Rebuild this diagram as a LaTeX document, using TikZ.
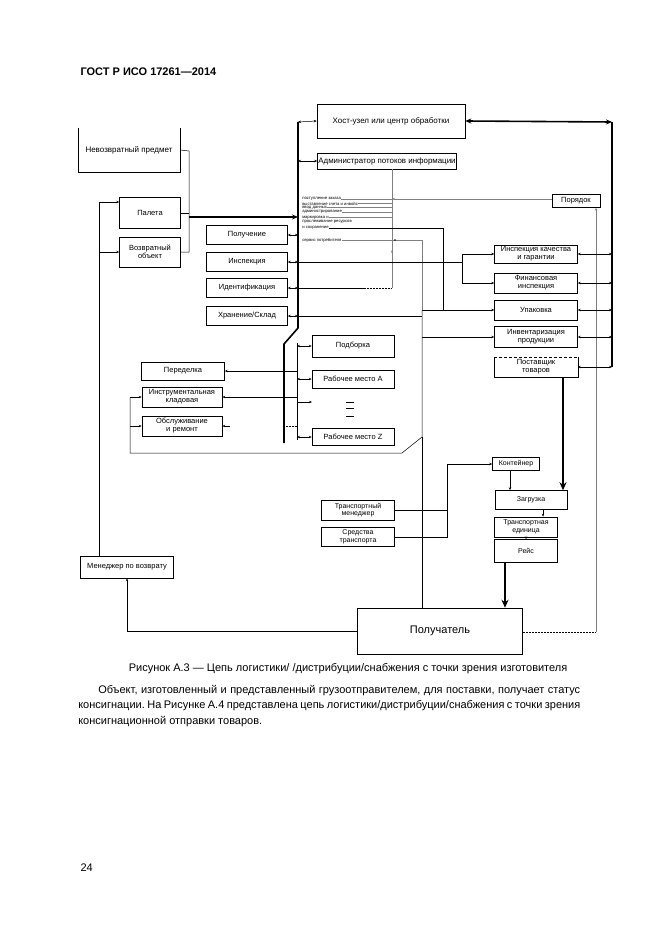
\documentclass[tikz,border=0pt]{standalone}
\usepackage{fontspec}
\setmainfont{Liberation Sans}
\usetikzlibrary{arrows.meta}
\frenchspacing

\begin{document}
\begin{tikzpicture}[x=1pt,y=-1pt,line width=0.5pt,
  box/.style={draw, rectangle, inner sep=1pt, align=center, font=\fontsize{7.5}{8}\selectfont},
  sbox/.style={box, font=\fontsize{7}{7.5}\selectfont},
  lst/.style={anchor=west, inner sep=0pt, font=\fontsize{4.2}{4.5}\selectfont},
  bus/.style={line width=1.6pt},
  fat/.style={line width=1.6pt, -{Stealth[length=8pt,width=7pt]}},
  info/.style={draw=gray},
  >={Stealth[length=3pt,width=2.4pt]}]
\useasboundingbox (0,0) rectangle (661,936);

\node[anchor=west, font=\bfseries\fontsize{11}{13}\selectfont] (hdr) at (77,72) {ГОСТ Р ИСО 17261—2014};

% left column
\node[box, draw=none, minimum width=102pt, minimum height=44pt, font=\fontsize{8}{9}\selectfont] (nevoz) at (129,150) {Невозвратный предмет};
\draw (nevoz.north west) -- (nevoz.south west) -- (nevoz.south east) -- (nevoz.north east);
\node[box, minimum width=61pt, minimum height=31pt] (palet) at (150,213) {Палета};
\node[box, minimum width=61pt, minimum height=30pt] (vozvr) at (150,252) {Возвратный\\объект};
\node[box, minimum width=81pt, minimum height=19pt] (polu) at (247,235) {Получение};
\node[box, minimum width=81pt, minimum height=19pt] (insp) at (247,262) {Инспекция};
\node[box, minimum width=81pt, minimum height=19pt] (ident) at (247,288) {Идентификация};
\node[box, minimum width=81pt, minimum height=19pt] (hran) at (247,316) {Хранение/Склад};
\node[box, minimum width=83pt, minimum height=18pt] (pered) at (183,371) {Переделка};
\node[box, minimum width=80pt, minimum height=20pt] (instr) at (182,397) {Инструментальная\\кладовая};
\node[box, minimum width=80pt, minimum height=20pt] (obsl) at (182,426) {Обслуживание\\и ремонт};
\node[box, minimum width=93pt, minimum height=22pt] (menvoz) at (127,567) {Менеджер по возврату};

% top
\node[box, minimum width=148pt, minimum height=34pt, font=\fontsize{8}{9}\selectfont] (host) at (391,121) {Хост-узел или центр обработки};
\node[box, minimum width=139pt, minimum height=16pt, inner sep=0.5pt, font=\fontsize{7.9}{9}\selectfont] (admin) at (387,161) {Администратор потоков информации};
\node[lst] (t1) at (302,199) {поступление заказа};
\node[lst] (t2) at (302,203.5) {выставление счета и инвойс};
\node[lst] (t3) at (302,207.5) {ввод данных};
\node[lst] (t4) at (302,212) {администрирование};
\node[lst] (t5) at (302,217.5) {маркировка и};
\node[lst] (t6) at (302,222) {прослеживание ресурсов};
\node[lst] (t7) at (302,228) {и сохранение};
\node[lst] (t8) at (302,240) {сервис потребителя};

% work places
\node[box, minimum width=82pt, minimum height=22pt] (podb) at (353,346) {Подборка};
\node[box, minimum width=82pt, minimum height=18pt] (rmA) at (353,379) {Рабочее место A};
\node[box, minimum width=82pt, minimum height=17pt] (rmZ) at (353,437) {Рабочее место Z};

% right column
\node[box, minimum width=48pt, minimum height=13pt] (poryad) at (576,201) {Порядок};
\node[box, minimum width=83pt, minimum height=18pt] (ikach) at (536,254) {Инспекция качества\\и гарантии};
\node[box, minimum width=83pt, minimum height=20pt] (finsp) at (536,283) {Финансовая\\инспекция};
\node[box, minimum width=83pt, minimum height=20pt] (upak) at (536,310) {Упаковка};
\node[box, minimum width=83pt, minimum height=21pt] (inv) at (536,337) {Инвентаризация\\продукции};
\node[box, draw=none, minimum width=83pt, minimum height=20pt] (post) at (536,367) {Поставщик\\товаров};
\draw (post.north west) -- (post.south west) -- (post.south east) -- (post.north east);
\draw[densely dashed] (post.north west) -- (post.north east);

% transport
\node[sbox, minimum width=47pt, minimum height=13pt] (kont) at (516,464) {Контейнер};
\node[sbox, minimum width=72pt, minimum height=19pt] (zagr) at (531,500) {Загрузка};
\node[sbox, minimum width=63pt, minimum height=20pt] (trunit) at (526,527) {Транспортная\\единица};
\node[sbox, minimum width=63pt, minimum height=23pt] (reis) at (526,551) {Рейс};
\node[sbox, minimum width=73pt, minimum height=20pt] (trmen) at (358,510) {Транспортный\\менеджер};
\node[sbox, minimum width=73pt, minimum height=19pt] (sredst) at (358,537) {Средства\\транспорта};
\node[box, minimum width=165pt, minimum height=46pt, font=\fontsize{11}{12}\selectfont] (poluch) at (440,631) {Получатель};

% bus
\coordinate (busT) at (298,122);
\coordinate (busK) at (298,328);
\coordinate (busL) at (284,344);
\coordinate (busB) at (284,443);
\coordinate (subT) at (297,343);
\coordinate (subB) at (297,440);
\draw[bus] (busT) -- (busK) -- (busL) -- (busB);
\draw (subT) -- (subB);
\draw[<->] (busT) -- (host.west);
\draw[<->] (busT |- admin.west) -- (admin.west);
\draw[<->] (busT |- polu.east) -- (polu.east);
\draw[<->] (busT |- insp.east) -- (insp.east);
\draw[<->] (busT |- ident.east) -- (ident.east);
\draw[<->] (busT |- hran.east) -- (hran.east);

% inputs from the left
\coordinate (jA) at (189,151);
\coordinate (jB) at (189,252);
\coordinate (jC) at (189,217);
\draw (nevoz.east) -- (jA) -- (jB) -- (vozvr.east);
\draw (palet.east) -- (palet.east -| jA);
\draw[line width=1.2pt, -{Stealth[length=6pt,width=5pt]}] (jC) -- (jC -| busT);

% return loop
\coordinate (rL) at (99,202);
\draw[->] (menvoz.north -| rL) -- (rL) -- (rL -| palet.west);
\draw[->] (rL |- vozvr.west) -- (vozvr.west);
\draw[->] (poluch.west) -| (menvoz.south);

% work places
\draw[<->] (subT |- podb.west) -- (podb.west);
\draw[<->] (subT |- rmA.west) -- (rmA.west);
\draw[<->] (subT |- rmZ.west) -- (rmZ.west);
\coordinate (rmdots) at (312,402);
\draw[->] (subT |- rmdots) -- (rmdots);
\draw (346,402) -- (354,402);
\draw (346,408) -- (354,408);
\draw (346,416) -- (354,416);
\draw[<-] (pered.east) -- (pered.east -| subT);
\draw[<-] (instr.east) -- (instr.east -| subT);
\draw[<-] (obsl.east) -- ++(8,0);
\draw[densely dotted] (busB |- obsl.east) -- (subT |- obsl.east);

% storage loop
\coordinate (eTop) at (422,310);
\coordinate (eCor) at (422,437);
\coordinate (eBot) at (402,453);
\coordinate (eLft) at (130,453);
\draw (busT |- hran.east) -- (hran.east -| eTop);
\draw[->] (eTop) -- (upak.west);
\draw[->] (eTop |- inv.west) -- (inv.west);
\draw (eTop) -- (eCor) -- (eBot) -- (eLft) -- (eLft |- instr.west);
\draw[->] (eLft |- instr.west) -- (instr.west);
\draw[->] (eLft |- obsl.west) -- (obsl.west);
\draw (eCor) -- (eCor |- poluch.north);

% information flows
\coordinate (gv) at (392,288);
\draw[info, ->] (gv) -- (gv |- 0,250);
\draw[info] (gv |- 0,252) -- (gv |- admin.south);
\draw[info] (t1.east) -- (t1.east -| gv);
\draw[info, <-] (t1.east -| gv) -- (t1.east -| poryad.west);
\draw[info] (t2.east) -- (t2.east -| gv);
\draw[info] (t3.east) -- (t3.east -| gv);
\draw[info] (t4.east) -- (t4.east -| gv);
\draw[info] (t5.east) -- (t5.east -| gv);
\draw (t7.east) -- (443,228) -- (443,310);
\draw[info] (t8.east) -- (422,240) -- (eTop);
\fill (395,240) circle (0.9pt);
\draw (busT |- ident.east) -- (365,288);
\draw[densely dotted] (365,288) -- (gv);

% inspection branch
\coordinate (ij) at (462,262);
\draw (busT |- insp.east) -- (ij);
\draw[->] (ij) |- (ikach.west);
\draw[->] (ij) |- (finsp.west);

% order line
\coordinate (pv) at (596,632);
\draw[info, ->] (pv) -- (pv |- poryad.south);
\draw[densely dotted] (poluch.east |- pv) -- (pv);

% right bus
\coordinate (rbT) at (612,122);
\coordinate (rbB) at (612,367);
\draw[bus, {Stealth[length=6pt,width=5pt]}-{Stealth[length=6pt,width=5pt]}] (host.east) -- (rbT);
\draw[bus] (rbT) -- (rbB);
\draw[<->] (rbB) -- (post.east);
\draw[<->] (ikach.east -| rbT) -- (ikach.east);
\draw[<->] (finsp.east -| rbT) -- (finsp.east);
\draw[<->] (upak.east -| rbT) -- (upak.east);
\draw[<->] (inv.east -| rbT) -- (inv.east);

% transport chain
\coordinate (pz) at (563,377);
\draw[fat] (pz) -- (pz |- zagr.north);
\coordinate (tj) at (447,464);
\draw (trmen.east) -| (tj);
\draw[->] (sredst.east) -| (tj) -- (kont.west);
\draw[->] ([xshift=-6pt]kont.south) -- ([xshift=-6pt]kont.south |- zagr.north);
\draw[->] ([xshift=12pt]zagr.south) -- ([xshift=12pt]zagr.south |- trunit.north);
\draw[->] (trunit.south) -- (reis.north);
\draw[fat] ([xshift=-21pt]reis.south) -- ([xshift=-21pt]reis.south |- poluch.north);
\draw[line width=1.2pt] (poluch.south west) -- (poluch.south east);

% text below
\node[font=\fontsize{11}{13}\selectfont] (cap) at (348,669) {Рисунок А.3 — Цепь логистики/ /дистрибуции/снабжения с точки зрения изготовителя};
\node[anchor=north west, text width=502pt, align=justify, inner sep=0pt, font=\fontsize{11}{15.5}\selectfont] (par) at (78,685) {\hspace*{20pt}Объект, изготовленный и представленный грузоотправителем, для поставки, получает статус консигнации. На Рисунке А.4 представлена цепь логистики/дистрибуции/снабжения с точки зрения консигнационной отправки товаров.};
\node[anchor=west, font=\fontsize{11}{13}\selectfont] (pg) at (77,868) {24};
\end{tikzpicture}
\end{document}
